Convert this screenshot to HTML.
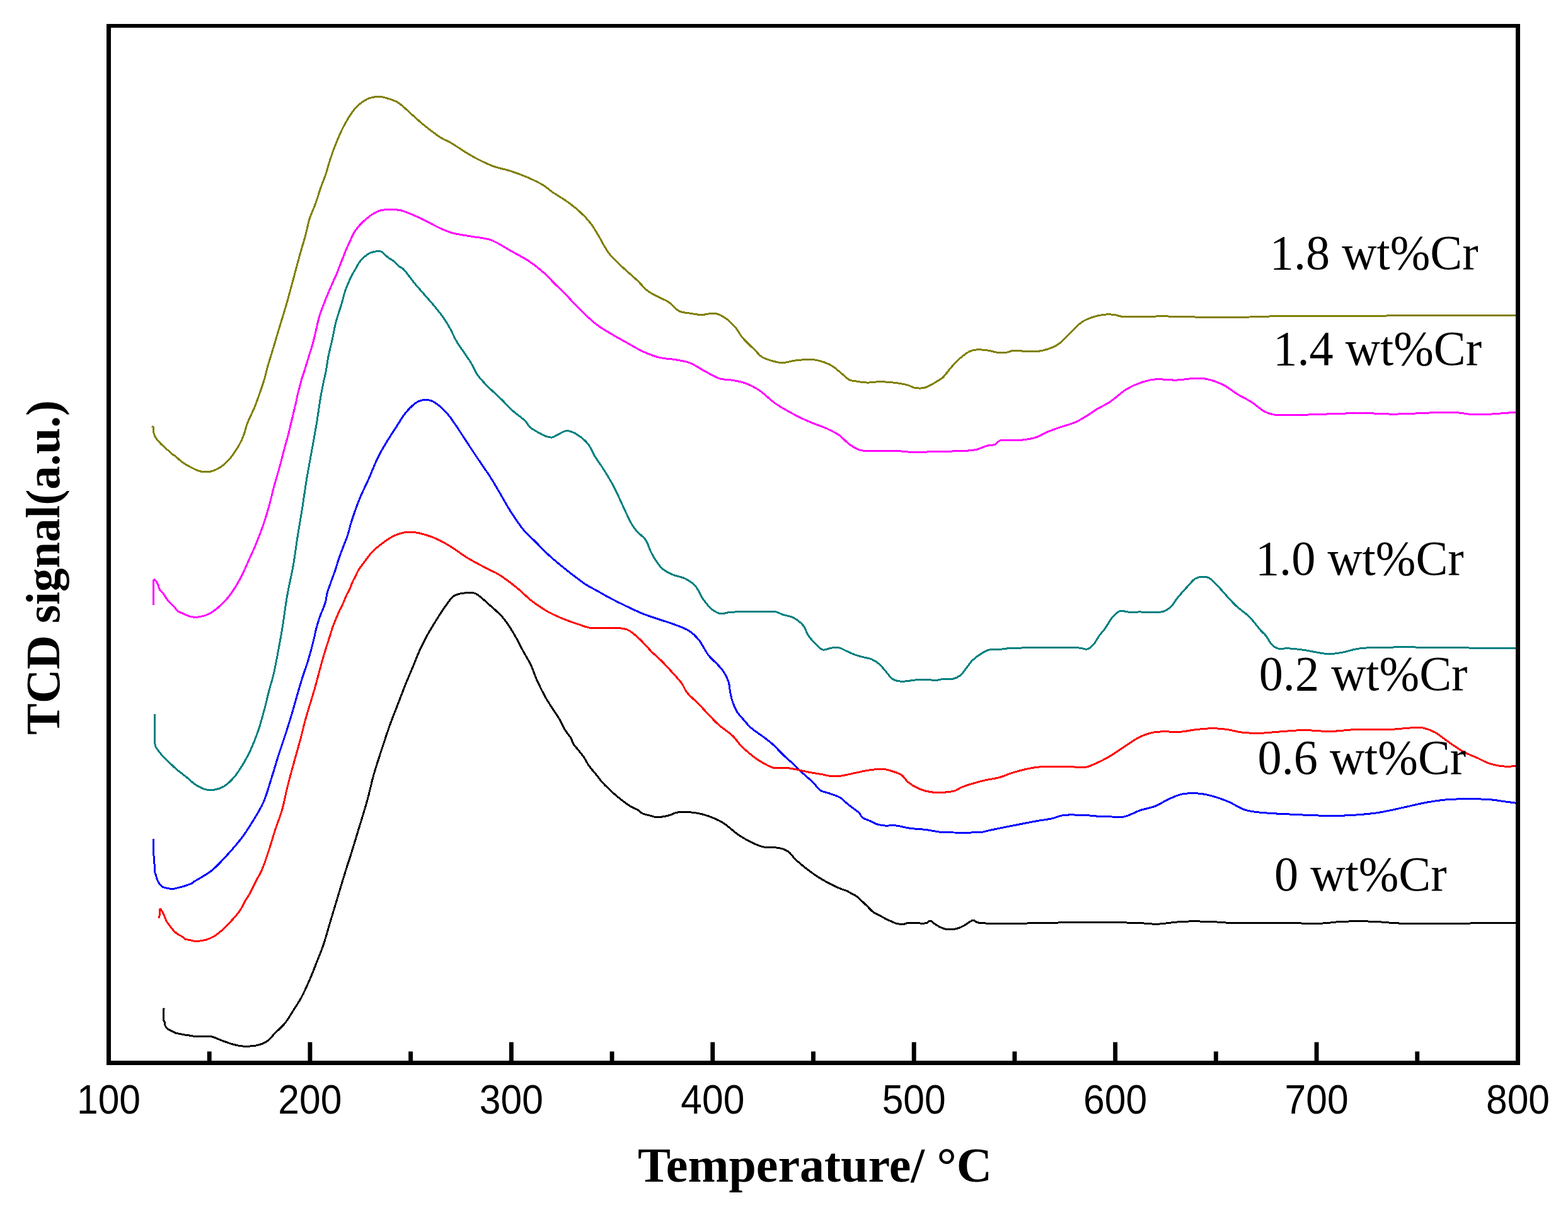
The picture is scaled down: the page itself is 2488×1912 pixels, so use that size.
<!DOCTYPE html>
<html><head><meta charset="utf-8"><title>TCD signal vs Temperature</title>
<style>html,body{margin:0;padding:0;background:#fff;}svg{display:block;}</style>
</head><body>
<svg width="2488" height="1912" viewBox="0 0 2488 1912"><rect x="0" y="0" width="2488" height="1912" fill="#fff"/>
<path d="M241.1,676.1 L243.1,677.9 C243.2,680.3 243.0,683.1 243.4,685.0 C243.6,686.3 244.1,687.1 244.5,688.2 C244.9,689.4 245.0,690.8 245.6,692.1 C246.3,693.5 247.3,695.0 248.4,696.4 C249.5,697.8 250.8,699.0 252.0,700.4 C253.4,702.0 254.9,704.0 256.3,705.4 C257.5,706.5 258.7,707.1 259.9,708.2 C261.3,709.5 262.7,711.7 264.1,712.9 C265.3,713.9 266.4,714.0 267.7,715.0 C269.4,716.3 271.2,718.9 273.1,720.4 C274.8,721.8 276.4,722.4 278.4,723.9 C281.4,726.2 285.0,730.4 289.0,733.3 C293.3,736.4 298.3,739.2 303.3,741.7 C308.3,744.2 313.5,747.1 318.8,748.1 C323.9,749.1 329.2,749.2 334.3,748.1 C339.9,746.9 346.1,743.7 351.0,740.5 C355.6,737.5 358.9,734.4 362.9,729.8 C368.3,723.7 375.3,713.3 379.5,706.0 C382.7,700.4 384.6,696.0 386.7,690.5 C389.0,684.5 390.1,678.0 392.6,671.4 C395.5,663.8 400.2,655.1 403.3,647.6 C406.1,641.0 408.0,635.6 410.5,628.6 C413.5,620.1 417.7,607.9 420.0,600.0 C421.6,594.5 422.0,591.5 423.6,585.7 C426.1,576.5 430.7,561.9 434.3,550.0 C437.9,538.1 441.4,526.2 445.0,514.3 C448.6,502.4 452.2,490.8 455.7,478.6 C459.3,465.8 462.8,452.4 466.4,439.3 C469.9,426.2 473.7,411.6 477.0,400.0 C479.6,390.7 482.0,383.6 484.3,375.0 C486.8,365.8 488.6,355.2 491.4,346.4 C493.9,338.6 497.2,332.5 500.0,324.8 C503.2,316.0 506.5,304.7 509.5,296.2 C512.0,289.2 514.4,283.9 516.7,277.1 C519.2,269.6 521.1,261.4 523.8,253.3 C526.6,244.7 529.6,236.1 533.3,227.1 C537.4,217.1 542.2,205.8 547.6,196.2 C552.6,187.2 557.9,178.0 564.3,171.2 C570.0,165.2 576.6,159.9 583.3,156.9 C589.4,154.2 597.1,153.3 602.4,153.3 C606.1,153.3 608.2,154.2 611.9,155.2 C617.2,156.7 624.8,158.7 631.0,162.4 C638.3,166.7 645.5,174.7 652.4,180.7 C658.9,186.4 664.3,191.6 671.4,197.4 C679.8,204.3 691.9,213.8 700.0,218.8 C705.4,222.2 708.9,222.9 714.3,226.0 C721.8,230.3 732.7,237.9 740.5,242.6 C746.6,246.3 750.9,248.9 757.1,252.1 C764.8,256.0 774.4,260.8 783.3,264.0 C791.9,267.1 800.6,268.3 809.5,271.2 C818.9,274.2 829.1,278.0 838.1,281.9 C846.5,285.6 855.1,289.6 861.9,293.8 C867.4,297.2 870.8,300.7 876.2,304.5 C883.1,309.3 892.5,314.6 900.0,320.0 C907.2,325.2 914.2,330.6 920.5,336.4 C926.6,342.0 932.0,347.7 937.1,354.3 C942.4,361.2 947.5,370.3 951.4,376.9 C954.3,381.8 955.9,385.6 958.6,390.0 C961.5,394.7 964.1,399.4 968.1,404.3 C973.1,410.4 980.3,416.9 987.1,423.3 C994.5,430.3 1003.8,438.0 1011.0,444.8 C1017.1,450.6 1021.7,456.9 1027.6,461.4 C1032.9,465.5 1038.7,468.0 1044.3,471.0 C1049.8,474.0 1055.7,475.8 1061.0,479.3 C1066.8,483.1 1071.7,490.7 1077.6,493.6 C1082.8,496.2 1088.5,496.1 1094.3,497.1 C1100.4,498.1 1107.0,499.5 1113.3,499.5 C1119.7,499.5 1127.2,496.8 1132.4,497.1 C1136.1,497.3 1138.7,498.1 1141.9,499.5 C1145.8,501.1 1149.8,503.6 1153.8,506.7 C1158.6,510.4 1164.0,516.0 1168.1,521.0 C1171.8,525.6 1173.5,530.2 1177.6,535.2 C1183.1,541.9 1193.3,551.0 1199.0,556.7 C1202.8,560.5 1204.5,563.6 1208.6,566.2 C1213.6,569.4 1221.6,571.7 1227.6,573.3 C1232.6,574.7 1236.8,575.8 1241.9,575.7 C1247.8,575.6 1254.7,572.9 1261.0,572.1 C1267.1,571.3 1273.1,570.8 1279.0,570.7 C1284.7,570.6 1289.7,570.2 1295.7,571.4 C1303.0,572.9 1312.5,576.3 1319.5,580.2 C1325.9,583.8 1331.1,589.3 1336.2,593.3 C1340.5,596.7 1343.9,600.9 1348.1,602.9 C1351.9,604.6 1355.7,604.5 1360.0,605.2 C1365.1,606.0 1370.9,607.0 1376.7,607.1 C1382.8,607.2 1388.9,605.7 1395.7,605.7 C1403.7,605.7 1413.9,606.6 1421.9,607.6 C1428.8,608.5 1435.8,609.6 1441.0,611.2 C1444.8,612.3 1446.8,614.5 1450.5,615.2 C1455.2,616.1 1461.4,616.6 1467.1,615.2 C1474.0,613.5 1483.4,607.0 1488.6,604.0 C1491.7,602.2 1493.2,601.5 1495.7,599.3 C1499.4,596.0 1503.6,589.6 1507.6,585.0 C1511.5,580.5 1514.8,576.1 1519.5,571.9 C1524.9,567.0 1532.7,560.3 1538.6,557.6 C1542.8,555.6 1546.0,555.1 1550.5,554.8 C1556.1,554.4 1563.6,555.5 1569.5,556.4 C1574.6,557.2 1579.2,559.0 1583.8,559.5 C1587.9,559.9 1591.8,560.0 1595.7,559.5 C1599.7,559.0 1603.0,556.9 1607.6,556.4 C1613.7,555.8 1622.6,557.4 1629.0,557.6 C1634.2,557.7 1638.9,557.9 1643.3,557.6 C1647.2,557.4 1650.3,557.1 1654.3,556.2 C1659.3,555.1 1666.0,553.0 1671.0,550.7 C1675.4,548.7 1679.0,546.7 1682.9,543.6 C1687.7,539.9 1692.0,534.3 1697.1,529.3 C1702.9,523.6 1710.0,515.7 1716.2,511.4 C1721.1,508.0 1725.3,506.2 1730.5,504.3 C1736.3,502.2 1743.1,500.3 1749.5,499.5 C1755.8,498.7 1763.0,498.8 1768.6,499.5 C1773.1,500.0 1774.9,501.7 1780.5,502.4 C1793.3,503.9 1821.0,501.8 1844.8,501.9 C1874.5,502.1 1911.9,503.9 1944.8,503.8 C1976.9,503.7 2004.2,501.9 2040.0,501.4 C2086.4,500.8 2143.2,501.2 2200.0,501.0 C2264.8,500.8 2338.7,500.5 2408.0,500.3" fill="none" stroke="#808000" stroke-width="3" stroke-linejoin="round" stroke-linecap="butt" shape-rendering="crispEdges"/>
<path d="M243.5,960.2 L243.5,921.4 L245.0,919.3 C246.3,921.0 247.9,922.5 249.0,924.3 C250.0,926.0 250.7,927.7 251.4,929.5 C252.0,931.2 252.0,933.2 252.9,934.8 C253.8,936.4 255.3,937.4 256.7,939.0 C258.5,941.1 260.7,944.3 262.4,946.7 C263.8,948.7 264.5,950.2 266.2,952.4 C268.9,955.7 274.6,961.0 277.6,964.3 C279.6,966.5 280.5,968.6 282.4,970.0 C284.3,971.4 286.4,971.8 289.0,972.9 C292.8,974.5 298.4,977.7 303.3,978.6 C308.0,979.5 312.7,979.4 317.6,978.6 C323.0,977.7 328.6,975.9 334.3,972.6 C341.9,968.2 351.4,959.4 358.0,952.4 C363.8,946.3 368.0,940.0 372.4,933.3 C376.8,926.5 380.5,919.5 384.3,911.9 C388.4,903.7 392.5,894.0 396.2,885.7 C399.6,878.2 402.5,872.1 405.7,864.3 C409.6,855.0 414.0,843.7 417.6,833.3 C421.1,823.1 424.3,812.5 427.1,802.4 C429.8,792.7 431.6,783.7 434.3,773.8 C437.2,763.1 440.7,751.7 443.8,740.5 C446.9,729.1 450.6,713.9 452.8,706.1 C453.9,702.0 454.6,700.0 455.5,696.8 C456.4,693.5 457.3,690.2 458.2,686.7 C459.1,683.0 460.0,678.7 460.9,675.1 C461.7,671.9 462.4,669.0 463.2,665.9 C464.0,662.6 464.7,659.2 465.5,655.8 C466.3,652.4 467.1,649.0 467.9,645.7 C468.7,642.5 469.5,639.7 470.2,636.4 C471.0,632.8 471.6,628.7 472.5,624.8 C473.4,620.9 474.6,617.1 475.6,613.2 C476.6,609.3 477.6,605.3 478.7,601.6 C479.7,598.2 480.7,595.5 481.9,591.9 C483.4,587.3 485.1,581.6 486.7,576.4 C488.3,571.3 489.8,566.1 491.4,561.0 C493.0,555.8 494.8,550.6 496.2,545.5 C497.6,540.7 498.6,536.1 499.8,531.2 C501.0,526.1 502.1,520.8 503.3,515.7 C504.5,510.8 505.4,506.3 506.9,501.4 C508.5,496.0 510.8,490.4 512.9,484.8 C515.1,478.9 517.4,473.1 520.0,466.9 C522.8,460.2 526.4,452.0 529.0,446.0 C531.0,441.5 532.7,438.2 534.3,434.3 C535.9,430.5 537.0,426.9 538.6,422.9 C540.3,418.4 542.4,413.4 544.3,408.6 C546.2,403.8 548.1,398.7 550.0,394.3 C551.7,390.4 553.2,387.5 555.0,383.6 C557.1,379.1 558.5,373.9 561.9,368.8 C566.4,362.0 574.0,353.3 581.0,347.4 C587.6,341.9 595.2,336.7 602.4,334.3 C608.7,332.2 615.5,332.6 621.4,332.6 C626.5,332.6 630.3,332.6 635.7,333.8 C643.2,335.5 653.7,340.2 661.9,343.8 C669.5,347.1 676.4,351.0 683.3,354.5 C689.8,357.8 696.2,361.3 702.4,364.0 C708.1,366.4 712.5,368.3 719.0,370.0 C727.7,372.3 739.9,373.7 750.0,375.5 C759.7,377.2 769.1,377.4 778.6,380.7 C789.0,384.3 799.2,391.7 809.5,397.4 C819.9,403.2 831.3,409.0 840.5,415.2 C848.5,420.6 855.1,425.9 861.9,431.9 C868.6,437.9 874.9,445.0 881.0,451.0 C886.5,456.4 891.3,460.7 896.7,466.2 C902.8,472.4 908.5,479.2 915.7,486.4 C924.6,495.3 936.2,507.0 946.7,515.0 C956.1,522.2 966.6,527.8 975.2,532.9 C982.1,537.0 987.4,539.8 994.3,543.6 C1002.3,548.0 1011.6,553.9 1020.5,557.9 C1029.1,561.8 1038.1,565.3 1046.7,567.4 C1054.7,569.4 1062.6,569.1 1070.5,570.5 C1078.5,571.9 1086.6,572.8 1094.3,575.7 C1102.5,578.8 1110.1,584.6 1118.1,588.8 C1126.0,592.9 1134.2,598.4 1141.9,600.7 C1148.4,602.7 1154.5,602.0 1161.0,603.1 C1168.0,604.3 1175.4,605.4 1182.4,607.9 C1189.7,610.5 1196.6,613.9 1203.8,618.6 C1212.4,624.2 1220.7,633.5 1230.0,640.0 C1239.4,646.6 1250.5,652.5 1260.0,657.6 C1268.3,662.0 1275.4,665.4 1283.8,669.0 C1292.8,672.9 1303.9,676.3 1312.4,680.2 C1319.5,683.5 1325.5,686.4 1331.4,690.5 C1337.4,694.7 1342.3,701.1 1348.1,705.2 C1353.5,709.0 1358.9,712.6 1364.8,714.3 C1370.8,716.0 1376.4,715.3 1383.8,715.5 C1394.3,715.8 1410.1,715.1 1421.9,715.5 C1432.1,715.9 1441.0,717.4 1450.5,717.6 C1460.0,717.8 1468.0,717.0 1479.0,716.7 C1494.3,716.2 1521.5,716.1 1533.8,715.2 C1540.1,714.8 1543.1,714.7 1548.1,713.6 C1554.1,712.3 1561.5,708.5 1567.1,707.1 C1571.5,706.0 1575.7,706.7 1579.0,705.2 C1581.9,703.9 1582.6,700.7 1586.2,699.3 C1593.3,696.6 1611.2,699.3 1621.9,698.1 C1630.7,697.1 1638.9,695.6 1645.7,693.3 C1651.2,691.4 1654.9,688.4 1660.0,686.2 C1665.6,683.7 1671.4,681.7 1678.1,679.3 C1686.5,676.3 1698.3,673.5 1706.7,669.8 C1713.9,666.6 1719.9,662.6 1725.7,659.0 C1730.9,655.8 1734.7,652.7 1740.0,649.5 C1746.3,645.6 1754.1,642.4 1761.4,637.6 C1769.9,632.0 1778.8,622.7 1787.6,617.4 C1795.5,612.7 1803.5,609.3 1811.4,606.7 C1818.6,604.3 1824.9,602.6 1832.9,601.9 C1842.7,601.0 1855.3,603.4 1866.2,603.1 C1876.7,602.8 1888.4,600.3 1897.1,600.2 C1903.5,600.1 1907.6,599.9 1913.8,601.2 C1922.2,602.9 1933.8,607.1 1942.4,611.4 C1950.3,615.4 1956.6,621.3 1963.8,625.7 C1970.8,630.0 1978.2,633.1 1985.2,637.6 C1992.5,642.2 2000.0,649.7 2006.7,653.1 C2011.7,655.7 2015.3,656.9 2021.0,657.9 C2029.1,659.3 2037.8,658.6 2051.0,658.6 C2076.4,658.5 2133.5,655.4 2162.9,655.5 C2182.1,655.6 2191.9,657.1 2210.5,657.1 C2236.8,657.2 2281.6,653.4 2305.7,654.3 C2320.5,654.8 2327.6,657.6 2341.4,657.9 C2360.2,658.3 2385.8,655.3 2408.0,654.0" fill="none" stroke="#FF00FF" stroke-width="3" stroke-linejoin="round" stroke-linecap="butt" shape-rendering="crispEdges"/>
<path d="M245.0,1132.5 L245.0,1172.6 C245.2,1174.4 245.5,1176.2 245.7,1178.0 C246.0,1179.9 245.9,1182.3 246.5,1184.0 C247.1,1185.5 247.9,1186.4 249.0,1188.0 C250.8,1190.6 254.2,1195.1 256.7,1197.9 C258.7,1200.1 260.0,1201.2 262.4,1203.6 C266.6,1207.7 273.7,1215.1 279.5,1220.2 C285.0,1225.0 290.9,1229.0 296.2,1233.3 C301.2,1237.3 305.3,1241.9 310.5,1245.2 C315.6,1248.4 321.6,1251.7 327.1,1252.9 C331.9,1254.0 336.7,1253.7 341.4,1252.9 C346.2,1252.0 351.0,1250.5 355.7,1247.6 C361.4,1244.1 367.4,1238.0 372.4,1232.1 C377.8,1225.8 382.4,1217.8 386.7,1210.7 C390.7,1204.0 393.9,1198.2 397.4,1190.5 C401.8,1180.9 406.7,1168.3 410.5,1157.1 C414.2,1146.1 417.1,1134.5 420.0,1123.8 C422.6,1113.9 424.7,1104.5 427.1,1095.2 C429.4,1086.3 432.1,1078.5 434.3,1069.0 C436.9,1058.1 439.2,1045.0 441.4,1033.3 C443.5,1022.0 445.3,1012.5 447.4,1000.0 C450.1,984.0 452.6,962.8 455.7,945.2 C458.6,928.7 462.4,913.5 465.2,897.6 C468.0,881.8 470.0,865.4 472.4,850.0 C474.7,835.3 477.2,821.8 479.5,807.1 C481.9,791.7 484.2,774.8 486.7,759.5 C489.1,745.1 492.2,729.0 494.2,717.7 C495.6,710.0 496.6,704.5 497.7,698.4 C498.7,693.0 499.5,688.1 500.4,682.9 C501.3,677.7 502.3,672.6 503.1,667.4 C503.9,662.2 504.6,657.1 505.4,651.9 C506.2,646.7 506.9,641.6 507.7,636.4 C508.5,631.3 509.4,626.1 510.4,621.0 C511.4,615.8 512.4,610.7 513.5,605.5 C514.6,600.3 515.9,595.8 517.0,590.0 C518.4,582.6 519.7,571.9 521.2,564.5 C522.4,558.7 523.6,554.2 524.8,549.0 C526.0,543.9 527.2,538.9 528.3,533.6 C529.5,527.9 530.5,521.3 531.9,515.7 C533.1,510.5 534.5,505.8 536.0,501.0 C537.4,496.3 539.2,491.4 540.5,487.1 C541.7,483.3 542.6,480.0 543.6,476.4 C544.6,472.8 545.4,469.1 546.4,465.7 C547.3,462.7 548.2,459.9 549.3,457.1 C550.4,454.2 551.6,451.5 552.9,448.6 C554.2,445.6 555.6,442.2 557.1,439.3 C558.5,436.5 559.9,433.9 561.4,431.4 C562.8,429.0 564.3,426.7 565.7,424.3 C567.2,421.8 568.3,418.8 570.0,416.4 C571.7,414.1 573.7,411.9 575.7,410.0 C577.5,408.2 579.4,406.5 581.4,405.0 C583.2,403.6 585.0,402.3 587.1,401.4 C589.3,400.4 592.0,399.8 594.3,399.3 C596.3,398.9 598.1,398.6 600.0,398.6 C601.9,398.6 604.0,398.8 605.7,399.6 C607.4,400.4 608.3,402.1 610.0,403.6 C612.2,405.5 615.4,408.2 617.9,410.0 C619.9,411.4 621.5,412.0 623.6,413.6 C626.6,415.9 630.6,420.6 633.6,422.9 C635.7,424.5 637.6,424.9 639.3,426.4 C641.2,428.0 642.6,430.1 644.3,432.1 C646.2,434.3 648.0,436.7 650.0,439.3 C652.2,442.2 654.3,445.1 657.1,448.6 C661.0,453.4 666.4,459.5 671.4,465.2 C676.7,471.4 682.8,478.0 688.1,484.3 C693.1,490.4 698.0,496.2 702.4,502.4 C706.7,508.5 710.7,515.0 714.3,521.4 C717.8,527.7 720.1,534.1 723.8,540.5 C727.9,547.6 733.8,555.5 738.1,561.9 C741.6,567.1 744.6,571.1 747.6,576.2 C750.9,581.7 753.2,588.4 757.1,594.0 C761.1,599.9 765.9,604.9 771.4,610.7 C778.2,617.8 787.7,626.0 795.2,633.3 C802.0,639.9 807.8,646.5 814.3,652.4 C820.5,658.0 828.7,663.1 833.3,667.9 C836.5,671.2 837.5,674.6 840.5,677.4 C843.8,680.4 848.2,682.8 852.4,685.2 C856.9,687.8 862.3,691.0 866.7,692.4 C870.1,693.5 873.1,694.5 876.2,694.0 C879.4,693.5 882.3,690.9 885.7,689.3 C889.4,687.5 893.8,684.4 897.6,683.8 C900.9,683.3 903.9,684.1 907.1,685.2 C911.0,686.5 915.0,688.9 919.0,691.7 C923.8,695.1 929.2,699.6 933.3,704.8 C937.6,710.3 939.9,717.4 943.8,723.8 C948.1,730.8 953.3,737.5 958.1,745.2 C963.6,754.0 969.5,763.6 974.8,773.8 C980.6,784.9 986.3,798.8 991.4,809.5 C995.6,818.3 999.6,827.3 1003.3,833.3 C1005.8,837.4 1007.5,839.5 1010.5,842.9 C1014.3,847.3 1021.2,851.8 1024.8,857.1 C1028.2,862.1 1029.2,868.3 1031.9,873.8 C1034.7,879.4 1038.0,885.5 1041.4,890.5 C1044.4,894.9 1047.0,899.0 1051.0,902.4 C1055.5,906.2 1061.7,909.3 1067.6,911.9 C1073.6,914.5 1080.8,914.9 1086.7,917.9 C1092.7,920.9 1098.7,924.7 1103.3,929.8 C1108.3,935.2 1110.7,943.8 1115.2,950.0 C1119.5,956.0 1124.3,962.6 1129.5,966.7 C1133.9,970.2 1138.9,973.1 1143.8,973.8 C1148.5,974.5 1151.6,972.0 1158.1,971.4 C1172.1,970.2 1213.9,971.0 1224.8,971.0 C1228.4,971.0 1229.4,970.5 1231.9,971.0 C1234.9,971.6 1237.7,973.7 1241.4,975.0 C1246.1,976.7 1252.8,977.1 1258.1,979.8 C1264.0,982.8 1270.8,987.9 1274.8,992.9 C1278.3,997.2 1278.9,1002.5 1281.9,1007.1 C1285.1,1012.1 1289.6,1017.3 1293.8,1021.4 C1297.6,1025.1 1301.4,1030.0 1305.7,1031.0 C1309.8,1032.0 1314.7,1028.7 1319.0,1028.1 C1323.1,1027.6 1327.1,1026.9 1331.0,1027.6 C1335.1,1028.4 1338.8,1031.1 1342.9,1032.9 C1347.4,1034.9 1352.3,1037.3 1357.1,1039.0 C1361.8,1040.7 1366.8,1041.9 1371.4,1043.1 C1375.5,1044.2 1379.5,1044.5 1383.3,1046.2 C1387.4,1048.0 1391.6,1050.8 1395.2,1053.8 C1398.8,1056.9 1401.4,1060.8 1404.8,1064.5 C1408.5,1068.7 1412.2,1074.8 1416.7,1077.6 C1420.7,1080.0 1424.7,1080.8 1429.8,1081.2 C1436.8,1081.8 1446.8,1079.2 1454.8,1078.8 C1462.2,1078.4 1471.0,1078.4 1476.2,1078.8 C1479.2,1079.1 1480.6,1080.0 1483.3,1080.0 C1486.8,1079.9 1490.9,1078.0 1495.2,1077.6 C1500.0,1077.1 1505.9,1078.6 1510.7,1077.6 C1515.4,1076.6 1520.3,1074.3 1523.8,1071.7 C1526.9,1069.4 1528.3,1066.6 1531.0,1063.3 C1534.5,1059.0 1538.4,1052.3 1542.9,1047.9 C1547.2,1043.7 1552.4,1040.0 1557.1,1037.1 C1561.1,1034.6 1564.6,1032.3 1569.0,1031.2 C1574.0,1029.9 1580.4,1030.9 1585.7,1030.5 C1590.7,1030.1 1592.9,1029.2 1600.0,1028.8 C1619.8,1027.6 1694.8,1026.7 1713.3,1028.1 C1719.3,1028.6 1721.6,1030.9 1725.2,1030.0 C1728.8,1029.1 1731.9,1026.0 1734.8,1022.9 C1738.3,1019.2 1741.0,1013.1 1744.3,1008.6 C1747.4,1004.4 1750.6,1001.1 1753.8,996.7 C1757.7,991.4 1761.3,983.6 1765.7,978.8 C1769.4,974.8 1773.4,970.5 1777.6,969.3 C1781.4,968.3 1784.9,970.7 1789.5,971.0 C1795.6,971.4 1803.8,970.9 1811.0,971.0 C1818.1,971.1 1826.0,972.0 1832.4,971.7 C1837.7,971.5 1842.3,971.6 1846.7,970.0 C1851.1,968.4 1855.1,965.4 1858.6,962.1 C1862.3,958.5 1864.4,953.7 1868.1,949.0 C1872.8,943.2 1879.6,935.5 1884.8,930.0 C1889.0,925.5 1892.4,920.5 1896.7,918.1 C1900.4,916.0 1904.8,915.3 1908.6,915.2 C1911.9,915.1 1914.9,915.3 1918.1,916.9 C1922.7,919.2 1927.9,925.5 1932.4,930.0 C1936.7,934.3 1940.0,938.4 1944.3,943.1 C1949.4,948.6 1954.9,955.2 1961.0,961.0 C1967.5,967.2 1975.8,972.2 1982.4,978.8 C1989.2,985.6 1996.5,996.0 2001.4,1001.4 C2004.3,1004.5 2006.2,1005.6 2008.6,1008.6 C2011.7,1012.4 2014.5,1019.4 2018.1,1022.9 C2021.0,1025.8 2023.8,1027.9 2027.6,1029.0 C2032.1,1030.3 2037.9,1028.5 2043.8,1028.8 C2051.0,1029.1 2058.6,1030.0 2067.6,1031.2 C2079.3,1032.7 2096.4,1037.4 2108.1,1037.6 C2117.1,1037.8 2123.8,1036.2 2131.9,1034.8 C2140.5,1033.3 2144.8,1030.3 2158.1,1028.8 C2198.7,1024.2 2324.7,1028.8 2408.0,1028.8" fill="none" stroke="#008080" stroke-width="3" stroke-linejoin="round" stroke-linecap="butt" shape-rendering="crispEdges"/>
<path d="M244.0,1331.0 C244.0,1340.0 243.7,1350.6 244.0,1358.0 C244.2,1363.1 244.7,1366.8 245.0,1371.0 C245.2,1375.1 244.9,1379.8 245.5,1383.0 C245.9,1385.2 246.7,1386.5 247.3,1388.5 C248.0,1390.8 248.5,1393.7 249.6,1396.2 C250.7,1398.7 252.2,1401.3 253.8,1403.3 C255.2,1405.0 256.7,1406.5 258.6,1407.5 C260.6,1408.6 263.3,1408.8 265.7,1409.3 C268.2,1409.8 270.8,1410.6 273.5,1410.5 C276.4,1410.4 279.6,1409.3 282.4,1408.7 C284.9,1408.1 287.0,1407.6 289.5,1406.9 C292.3,1406.1 295.8,1404.9 298.5,1403.9 C300.7,1403.1 302.6,1402.5 304.4,1401.5 C306.1,1400.5 307.5,1399.1 309.2,1398.0 C311.0,1396.9 312.6,1396.2 314.8,1394.9 C318.3,1392.8 324.1,1389.4 328.1,1386.7 C331.6,1384.4 334.1,1383.0 337.6,1380.0 C342.8,1375.6 349.1,1369.0 355.7,1361.9 C364.3,1352.6 376.6,1338.7 384.3,1328.6 C390.2,1320.8 393.6,1315.1 398.6,1307.1 C404.6,1297.3 412.2,1285.9 417.6,1273.8 C423.5,1260.7 427.7,1244.1 431.9,1231.0 C435.5,1219.9 438.0,1210.7 441.4,1200.0 C445.1,1188.5 449.6,1175.8 453.3,1164.3 C456.7,1153.6 459.8,1143.8 462.9,1133.3 C466.1,1122.4 469.4,1110.2 472.4,1100.0 C474.9,1091.4 476.9,1084.5 479.5,1076.2 C482.4,1067.1 485.9,1057.8 489.0,1047.6 C492.5,1036.0 497.0,1018.4 499.0,1010.0 C500.0,1005.8 500.2,1003.9 501.0,1000.5 C502.0,996.4 503.5,991.4 504.8,987.1 C506.0,983.1 507.2,979.5 508.6,975.7 C510.0,971.9 511.9,968.1 513.3,964.3 C514.7,960.5 516.1,956.7 517.1,952.9 C518.0,949.1 518.0,945.2 519.0,941.4 C520.0,937.6 521.5,933.9 522.9,930.0 C524.4,925.7 526.0,921.1 527.6,916.7 C529.2,912.2 530.9,907.9 532.4,903.3 C534.0,898.4 535.5,893.0 537.1,888.1 C538.6,883.5 540.3,879.1 541.9,874.8 C543.5,870.6 545.1,866.5 546.7,862.4 C548.3,858.3 549.8,854.8 551.4,850.0 C553.6,843.4 555.3,834.9 558.1,826.2 C561.6,815.4 566.3,801.9 571.0,790.5 C575.4,779.7 580.5,770.0 585.2,759.5 C590.0,748.6 594.7,736.0 599.5,726.2 C603.4,718.2 607.0,712.2 611.4,704.8 C616.4,696.4 622.5,687.2 628.1,678.6 C633.6,670.1 638.5,660.8 644.8,653.6 C650.5,647.0 657.8,639.9 663.8,636.9 C667.9,634.8 672.0,634.5 675.7,634.5 C679.0,634.5 682.0,634.9 685.2,636.2 C689.1,637.8 693.1,640.8 697.1,644.0 C701.8,647.9 706.6,652.5 711.4,658.3 C717.6,665.7 724.4,676.6 730.5,685.7 C736.4,694.5 742.1,703.6 747.6,711.9 C752.6,719.4 757.0,726.0 761.9,733.3 C767.1,741.0 773.0,749.1 778.1,757.1 C783.1,765.0 787.5,772.7 792.4,781.0 C797.8,790.1 802.9,799.9 809.0,809.5 C815.5,819.7 823.2,831.7 830.5,840.5 C836.7,847.9 843.0,853.0 849.5,859.5 C856.4,866.4 863.5,874.1 871.0,881.0 C878.6,888.0 886.6,894.6 894.8,901.2 C903.2,908.0 914.6,916.7 921.0,921.4 C924.6,924.0 926.0,925.2 929.5,927.4 C934.5,930.6 942.0,934.4 948.6,938.1 C955.5,942.0 962.8,946.2 970.0,950.0 C977.1,953.7 983.7,957.0 991.4,960.7 C1000.2,964.9 1010.8,970.1 1020.0,973.8 C1028.2,977.1 1035.5,979.3 1043.8,982.1 C1052.9,985.2 1063.6,988.3 1072.4,991.7 C1080.1,994.7 1087.7,997.2 1093.8,1001.2 C1099.4,1004.9 1103.5,1008.8 1108.1,1014.3 C1113.9,1021.2 1119.1,1033.3 1124.8,1040.5 C1129.4,1046.3 1134.8,1050.1 1139.0,1054.8 C1142.7,1059.0 1146.2,1062.6 1149.0,1067.1 C1151.9,1071.8 1154.6,1077.3 1156.2,1082.6 C1157.7,1087.7 1157.6,1093.1 1158.6,1098.1 C1159.6,1103.0 1160.5,1107.5 1162.1,1112.4 C1163.9,1117.8 1166.2,1124.0 1169.3,1129.0 C1172.3,1133.9 1176.4,1137.9 1180.0,1142.1 C1183.5,1146.2 1186.2,1149.9 1190.7,1154.0 C1196.6,1159.4 1207.0,1165.9 1213.3,1170.7 C1217.9,1174.3 1220.9,1176.3 1225.2,1180.2 C1230.9,1185.3 1238.6,1193.9 1244.3,1199.3 C1248.7,1203.4 1252.3,1206.3 1256.2,1210.0 C1260.2,1213.8 1264.3,1218.3 1268.1,1221.9 C1271.4,1225.0 1274.1,1227.1 1277.6,1230.2 C1281.9,1234.0 1287.7,1239.0 1291.9,1243.3 C1295.5,1247.0 1297.5,1251.4 1301.4,1254.0 C1305.4,1256.6 1310.7,1257.0 1315.7,1258.8 C1321.3,1260.8 1328.7,1262.9 1333.3,1265.7 C1336.9,1267.9 1338.8,1270.5 1341.9,1273.1 C1345.5,1276.1 1350.0,1279.7 1353.8,1282.6 C1357.1,1285.2 1360.8,1287.2 1363.3,1289.8 C1365.4,1292.0 1365.8,1294.9 1368.1,1296.9 C1371.0,1299.3 1376.0,1300.6 1380.0,1302.4 C1384.0,1304.2 1387.7,1306.6 1391.9,1307.9 C1396.4,1309.3 1401.6,1310.0 1406.2,1310.2 C1410.3,1310.4 1413.4,1309.2 1418.1,1309.5 C1425.2,1309.9 1435.5,1313.1 1444.3,1314.3 C1453.0,1315.5 1462.2,1315.6 1470.5,1316.7 C1478.0,1317.7 1484.7,1319.5 1491.9,1320.2 C1499.0,1320.9 1504.8,1320.9 1513.3,1321.0 C1525.6,1321.1 1548.4,1321.5 1558.6,1320.2 C1563.9,1319.5 1565.8,1318.4 1570.5,1317.4 C1577.1,1316.0 1586.4,1314.2 1594.3,1312.6 C1602.2,1311.0 1609.8,1309.5 1618.1,1307.9 C1627.2,1306.1 1637.8,1304.0 1646.7,1302.4 C1654.3,1301.1 1661.2,1300.5 1668.1,1299.0 C1674.7,1297.6 1679.7,1294.6 1687.1,1293.6 C1697.1,1292.2 1712.8,1293.2 1722.9,1293.6 C1730.2,1293.9 1735.3,1294.8 1741.9,1295.2 C1749.1,1295.6 1757.1,1295.9 1764.3,1296.0 C1770.9,1296.1 1776.6,1297.3 1783.3,1296.0 C1791.5,1294.5 1800.9,1288.6 1809.5,1285.7 C1817.6,1283.0 1825.7,1282.0 1833.3,1279.0 C1840.8,1276.0 1847.5,1271.1 1854.8,1267.9 C1861.8,1264.8 1868.1,1261.4 1876.2,1260.0 C1885.9,1258.3 1898.2,1258.3 1909.5,1260.0 C1921.9,1261.8 1936.3,1266.9 1947.6,1271.4 C1957.3,1275.3 1965.9,1281.7 1973.8,1284.5 C1979.8,1286.6 1984.7,1287.2 1990.5,1288.1 C1996.6,1289.1 2002.2,1289.4 2009.5,1290.0 C2019.2,1290.8 2030.8,1291.3 2043.8,1291.9 C2060.9,1292.7 2086.0,1294.1 2103.3,1294.3 C2116.7,1294.5 2126.3,1294.5 2139.0,1293.8 C2153.8,1293.0 2171.5,1291.7 2186.7,1289.5 C2200.8,1287.4 2213.8,1284.0 2227.1,1281.2 C2240.0,1278.5 2252.9,1275.0 2265.2,1272.9 C2276.7,1270.9 2285.6,1269.4 2298.6,1268.6 C2316.5,1267.5 2346.7,1267.6 2362.9,1268.6 C2372.8,1269.2 2379.0,1270.7 2386.7,1271.7 C2394.0,1272.7 2400.9,1273.6 2408.0,1274.5" fill="none" stroke="#0000FF" stroke-width="3" stroke-linejoin="round" stroke-linecap="butt" shape-rendering="crispEdges"/>
<path d="M252.9,1456.7 L253.3,1443.8 L254.6,1442.1 C255.6,1443.6 256.6,1445.2 257.5,1446.7 C258.3,1448.1 258.9,1449.4 259.6,1450.8 C260.3,1452.4 261.0,1454.1 261.7,1455.8 C262.5,1457.7 263.1,1459.8 264.2,1461.7 C265.3,1463.7 267.0,1465.7 268.3,1467.5 C269.5,1469.1 270.4,1470.5 271.7,1472.1 C273.3,1474.2 275.4,1476.9 277.5,1478.8 C279.5,1480.6 281.7,1482.0 283.8,1483.3 C285.8,1484.6 288.2,1485.4 290.0,1486.7 C291.6,1487.8 292.6,1489.6 294.2,1490.4 C295.9,1491.2 297.9,1490.8 300.0,1491.2 C302.7,1491.7 305.5,1493.1 309.0,1493.3 C313.8,1493.6 320.9,1492.8 326.2,1491.4 C331.0,1490.1 335.4,1488.1 339.5,1485.7 C343.6,1483.3 346.9,1480.6 351.0,1477.1 C356.3,1472.5 362.9,1465.8 368.1,1460.0 C373.0,1454.6 377.8,1449.2 381.4,1443.8 C384.6,1439.0 386.4,1434.1 389.0,1429.5 C391.5,1425.2 394.1,1421.7 396.7,1417.1 C399.8,1411.5 403.0,1404.3 406.2,1398.1 C409.3,1392.0 412.6,1387.0 415.7,1380.0 C419.7,1370.9 423.6,1358.3 427.1,1347.6 C430.5,1337.2 433.3,1327.0 436.7,1316.7 C440.1,1306.3 444.3,1296.5 447.4,1285.7 C450.7,1274.3 452.7,1261.9 455.7,1250.0 C458.7,1238.1 461.8,1226.7 465.2,1214.3 C468.9,1200.6 473.7,1184.3 477.1,1171.4 C479.9,1160.9 481.4,1153.6 484.3,1142.9 C488.1,1129.0 493.9,1111.5 498.6,1095.2 C503.5,1078.2 508.3,1058.5 512.9,1042.9 C516.7,1030.1 520.9,1017.3 523.8,1008.1 C525.7,1002.0 526.9,997.6 528.6,992.9 C530.1,988.8 531.7,985.2 533.3,981.4 C534.9,977.6 536.4,973.8 538.1,970.0 C539.9,966.2 542.0,962.6 543.8,958.6 C545.8,954.3 547.5,949.5 549.5,945.2 C551.3,941.2 553.6,937.5 555.2,933.8 C556.7,930.5 557.6,927.4 559.0,924.3 C560.4,921.1 562.1,918.1 563.8,914.8 C565.6,911.2 567.4,906.7 569.5,903.3 C571.3,900.4 573.2,898.4 575.2,895.7 C577.6,892.5 580.3,888.6 582.9,885.2 C585.4,881.9 587.8,878.6 590.5,875.7 C593.1,872.9 595.4,871.0 599.0,868.1 C604.5,863.7 613.7,856.3 621.0,852.4 C627.3,849.0 633.6,846.5 640.0,845.2 C646.2,844.0 652.7,844.1 659.0,844.8 C665.4,845.5 672.0,847.6 678.1,849.5 C683.9,851.3 689.0,853.3 694.8,856.0 C701.6,859.2 708.8,863.3 716.2,867.9 C724.6,873.1 732.8,879.9 742.4,885.7 C753.2,892.2 769.4,900.3 778.1,904.8 C783.1,907.4 785.3,907.8 790.0,910.7 C798.1,915.6 811.8,925.9 821.0,933.3 C829.0,939.7 834.7,946.4 842.4,952.4 C850.5,958.7 859.5,965.0 868.6,970.2 C877.7,975.3 887.9,979.6 897.1,983.3 C905.3,986.6 913.8,989.4 921.0,991.7 C926.8,993.6 930.1,995.4 936.7,996.4 C947.4,998.0 968.6,995.4 979.5,996.4 C986.4,997.0 990.7,997.0 996.2,999.5 C1002.7,1002.4 1009.1,1008.7 1015.2,1014.3 C1021.8,1020.3 1028.0,1028.3 1034.3,1034.5 C1040.0,1040.1 1045.5,1044.5 1051.0,1050.0 C1056.6,1055.7 1062.3,1062.0 1067.6,1067.9 C1072.6,1073.5 1078.1,1079.1 1081.9,1084.5 C1085.1,1089.1 1086.0,1093.4 1089.5,1098.1 C1094.1,1104.2 1101.5,1109.9 1108.6,1117.1 C1117.7,1126.4 1129.6,1140.2 1139.5,1149.3 C1147.7,1156.8 1157.0,1162.1 1163.3,1168.3 C1168.2,1173.1 1170.9,1178.1 1175.2,1182.6 C1179.6,1187.2 1184.6,1191.7 1189.5,1195.7 C1194.2,1199.6 1198.3,1203.0 1203.8,1206.4 C1210.6,1210.6 1219.9,1216.5 1227.6,1218.3 C1234.1,1219.8 1240.4,1217.8 1246.7,1218.3 C1253.1,1218.8 1259.4,1220.2 1265.7,1221.4 C1272.1,1222.6 1278.4,1224.3 1284.8,1225.5 C1291.1,1226.7 1297.9,1227.5 1303.8,1228.6 C1308.9,1229.5 1313.2,1231.0 1318.1,1231.4 C1323.1,1231.8 1327.7,1231.8 1333.3,1231.2 C1340.4,1230.4 1349.2,1228.0 1357.1,1226.4 C1365.1,1224.8 1373.2,1222.7 1381.0,1221.7 C1388.3,1220.8 1396.0,1219.9 1402.4,1220.5 C1407.7,1221.0 1412.0,1222.4 1416.7,1224.0 C1421.5,1225.6 1427.0,1227.1 1431.0,1230.0 C1434.9,1232.8 1436.5,1237.4 1440.5,1240.7 C1445.3,1244.7 1452.1,1249.0 1458.6,1251.7 C1465.2,1254.5 1472.0,1256.4 1480.0,1257.1 C1490.0,1258.0 1506.0,1257.2 1514.3,1255.0 C1519.5,1253.6 1521.1,1251.0 1526.2,1249.0 C1534.8,1245.6 1551.1,1241.0 1561.9,1238.3 C1570.6,1236.1 1577.8,1235.8 1585.7,1233.6 C1593.7,1231.4 1600.8,1227.7 1609.5,1225.2 C1619.6,1222.3 1633.3,1219.0 1642.9,1217.6 C1650.1,1216.6 1654.5,1216.6 1661.9,1216.4 C1672.4,1216.1 1688.8,1216.7 1700.0,1216.8 C1708.9,1216.9 1716.8,1218.3 1723.8,1217.0 C1729.7,1215.9 1734.1,1213.4 1739.5,1211.0 C1745.6,1208.3 1751.6,1205.4 1758.6,1201.4 C1767.8,1196.1 1780.4,1187.0 1789.5,1181.2 C1796.6,1176.7 1801.7,1172.5 1808.6,1169.3 C1815.9,1165.9 1823.2,1163.2 1832.4,1161.7 C1844.5,1159.7 1863.8,1162.0 1875.2,1161.0 C1882.9,1160.4 1887.3,1158.9 1894.3,1158.1 C1902.9,1157.1 1913.8,1155.8 1922.9,1155.7 C1931.2,1155.6 1938.8,1156.3 1946.7,1157.4 C1954.7,1158.5 1962.2,1161.1 1970.5,1162.1 C1979.5,1163.2 1989.7,1163.4 1999.0,1163.3 C2007.9,1163.2 2015.4,1162.1 2025.2,1161.4 C2037.6,1160.5 2053.4,1158.8 2067.6,1158.6 C2081.9,1158.4 2096.2,1160.7 2110.5,1160.5 C2124.8,1160.3 2138.3,1157.9 2153.3,1157.4 C2169.9,1156.8 2189.1,1158.0 2205.7,1157.4 C2220.7,1156.9 2239.4,1154.3 2248.6,1154.3 C2252.9,1154.3 2254.5,1154.2 2258.1,1155.0 C2263.4,1156.2 2271.2,1158.9 2277.1,1162.1 C2283.1,1165.3 2287.5,1169.6 2293.8,1174.0 C2302.0,1179.7 2313.6,1188.3 2322.4,1193.1 C2329.2,1196.8 2334.7,1198.4 2341.4,1201.4 C2348.9,1204.7 2357.1,1209.6 2365.2,1212.1 C2373.0,1214.5 2381.5,1215.8 2389.0,1216.2 C2395.7,1216.6 2401.7,1215.5 2408.0,1215.2" fill="none" stroke="#FF0000" stroke-width="3" stroke-linejoin="round" stroke-linecap="butt" shape-rendering="crispEdges"/>
<path d="M261.2,1602.0 L259.5,1601.0 L259.5,1618.6 C260.1,1619.9 261.0,1621.1 261.4,1622.4 C261.7,1623.6 261.3,1624.9 261.7,1626.2 C262.1,1627.6 263.0,1629.2 264.0,1630.5 C265.0,1631.8 266.4,1632.9 267.9,1633.8 C269.6,1634.9 271.8,1635.5 273.6,1636.4 C275.3,1637.2 276.5,1638.3 278.3,1639.0 C280.4,1639.8 283.1,1640.0 285.5,1640.5 C287.9,1641.0 290.2,1641.5 292.6,1641.9 C295.0,1642.3 297.3,1642.5 299.8,1642.9 C302.5,1643.3 305.0,1644.0 308.3,1644.3 C312.9,1644.7 320.1,1644.5 325.0,1644.6 C329.0,1644.7 331.8,1644.0 335.7,1644.8 C340.8,1645.8 347.0,1649.3 352.9,1651.4 C359.1,1653.6 366.1,1656.2 371.9,1657.7 C376.7,1658.9 380.1,1659.7 385.2,1660.0 C391.8,1660.4 401.4,1660.2 408.1,1658.7 C413.8,1657.4 418.7,1655.5 423.3,1652.4 C428.3,1649.1 432.1,1643.6 436.7,1639.0 C441.6,1634.1 447.4,1629.3 451.9,1623.8 C456.3,1618.5 459.3,1613.0 463.3,1606.7 C468.1,1599.2 473.9,1590.6 478.6,1581.9 C483.5,1572.8 487.8,1562.9 491.9,1553.3 C496.0,1543.8 499.7,1534.0 503.3,1524.8 C506.7,1516.3 509.7,1509.2 512.9,1500.0 C516.8,1488.7 520.5,1474.6 524.3,1461.9 C528.1,1449.2 531.7,1436.9 535.7,1423.8 C539.9,1409.7 545.3,1391.8 549.0,1380.0 C551.5,1372.0 553.0,1367.9 555.5,1360.0 C559.2,1348.4 564.2,1331.8 568.6,1317.1 C573.3,1301.7 578.8,1284.5 582.9,1269.5 C586.6,1256.1 588.9,1244.0 592.4,1231.4 C596.0,1218.6 600.1,1206.3 604.3,1193.3 C608.8,1179.4 613.9,1163.6 618.6,1150.5 C622.6,1139.3 626.5,1129.8 630.5,1119.5 C634.5,1109.2 638.4,1098.7 642.4,1088.6 C646.3,1078.9 650.3,1069.5 654.3,1060.0 C658.3,1050.5 662.1,1040.4 666.2,1031.4 C670.0,1023.0 673.8,1015.5 678.1,1007.6 C682.5,999.6 687.6,991.5 692.4,983.8 C697.1,976.3 701.7,968.7 706.7,962.0 C711.3,955.9 715.0,948.8 721.0,945.2 C726.9,941.6 736.3,940.9 742.4,940.5 C746.9,940.2 750.0,939.9 754.3,941.7 C760.8,944.4 768.7,952.9 775.7,959.0 C782.9,965.3 790.7,971.7 797.1,979.0 C803.4,986.3 808.5,994.3 813.8,1002.9 C819.7,1012.4 825.4,1024.5 830.5,1033.8 C834.8,1041.6 838.9,1047.8 842.4,1055.2 C846.0,1062.8 848.2,1070.8 851.9,1079.0 C856.0,1088.2 860.7,1097.8 866.2,1107.6 C872.4,1118.5 882.5,1132.1 887.6,1141.0 C890.8,1146.6 892.5,1151.2 894.8,1155.2 C896.6,1158.3 898.2,1160.5 900.0,1163.1 C901.9,1165.9 904.4,1168.5 906.0,1171.4 C907.5,1174.1 907.8,1176.9 909.5,1179.8 C911.5,1183.3 915.1,1186.9 917.9,1190.5 C920.7,1194.1 923.6,1197.5 926.2,1201.2 C928.8,1205.0 930.8,1209.4 933.3,1213.1 C935.6,1216.5 938.1,1219.6 940.5,1222.6 C942.8,1225.5 945.2,1228.0 947.6,1231.0 C950.3,1234.3 952.9,1238.2 956.0,1241.7 C959.3,1245.4 963.0,1248.9 966.7,1252.4 C970.5,1256.0 974.6,1259.7 978.6,1263.1 C982.5,1266.4 986.6,1269.7 990.5,1272.6 C994.1,1275.2 997.6,1277.7 1001.2,1279.8 C1004.7,1281.8 1008.8,1283.2 1011.9,1285.1 C1014.6,1286.8 1016.2,1289.1 1019.0,1290.5 C1022.4,1292.2 1027.4,1293.0 1031.0,1294.0 C1034.0,1294.8 1036.2,1295.8 1039.3,1296.2 C1043.1,1296.6 1048.2,1296.4 1052.4,1295.8 C1056.5,1295.2 1060.7,1294.1 1064.3,1292.9 C1067.4,1291.9 1069.6,1290.2 1072.6,1289.5 C1075.9,1288.7 1079.2,1288.6 1083.3,1288.5 C1089.0,1288.4 1097.1,1288.8 1103.8,1289.8 C1110.3,1290.8 1116.3,1292.2 1122.9,1294.5 C1130.5,1297.1 1138.9,1300.5 1146.7,1305.2 C1155.5,1310.5 1164.4,1319.9 1172.9,1325.5 C1180.2,1330.3 1187.5,1334.2 1194.3,1337.4 C1200.1,1340.1 1204.7,1342.4 1211.0,1343.8 C1218.6,1345.5 1229.8,1344.0 1237.1,1345.7 C1242.7,1347.0 1247.4,1348.8 1251.4,1351.7 C1255.3,1354.5 1257.2,1358.7 1261.0,1362.4 C1265.7,1367.0 1271.6,1372.0 1277.6,1376.7 C1284.2,1381.9 1291.9,1387.6 1299.0,1392.1 C1305.4,1396.2 1312.4,1399.9 1318.1,1402.9 C1322.5,1405.2 1326.5,1407.1 1330.0,1408.6 C1332.6,1409.7 1334.6,1410.4 1336.9,1411.3 C1339.2,1412.1 1341.5,1412.7 1343.7,1413.7 C1346.0,1414.7 1348.2,1416.2 1350.6,1417.5 C1353.2,1418.9 1356.3,1420.2 1358.8,1422.0 C1361.3,1423.8 1363.2,1425.8 1365.7,1428.1 C1368.7,1430.8 1372.1,1434.0 1375.3,1437.1 C1378.5,1440.2 1381.8,1444.3 1384.9,1446.7 C1387.3,1448.5 1389.5,1449.5 1391.8,1450.8 C1394.1,1452.0 1396.1,1452.9 1398.6,1454.2 C1401.7,1455.8 1405.8,1458.2 1408.9,1459.7 C1411.4,1460.9 1413.5,1461.5 1415.8,1462.5 C1418.1,1463.5 1419.9,1464.9 1422.7,1465.5 C1426.4,1466.3 1433.4,1466.4 1436.4,1465.9 C1438.0,1465.6 1438.0,1464.8 1439.8,1464.5 C1444.9,1463.5 1465.7,1466.4 1470.7,1464.5 C1472.6,1463.8 1472.9,1461.9 1474.1,1461.4 C1475.2,1461.0 1476.6,1461.0 1477.6,1461.4 C1478.6,1461.8 1479.0,1462.7 1480.0,1463.5 C1481.7,1464.9 1484.2,1467.0 1487.1,1468.6 C1490.9,1470.7 1496.5,1473.6 1501.4,1474.5 C1506.1,1475.3 1511.2,1474.8 1515.7,1474.0 C1519.9,1473.2 1523.9,1471.6 1527.6,1469.8 C1531.0,1468.1 1534.1,1465.5 1537.1,1463.8 C1539.6,1462.4 1541.9,1460.2 1544.3,1460.2 C1546.7,1460.2 1547.3,1462.8 1551.4,1463.8 C1569.0,1468.0 1655.1,1463.7 1700.0,1463.8 C1737.3,1463.9 1777.6,1463.5 1802.4,1464.3 C1816.5,1464.7 1824.8,1466.4 1835.7,1466.2 C1846.2,1466.0 1857.0,1463.8 1866.7,1463.1 C1875.1,1462.5 1881.4,1462.0 1890.5,1461.9 C1902.7,1461.8 1921.1,1462.5 1933.3,1463.1 C1942.4,1463.6 1947.3,1464.5 1957.1,1464.8 C1973.1,1465.3 1998.0,1464.2 2020.0,1464.2 C2044.3,1464.2 2076.6,1465.8 2096.9,1465.1 C2110.2,1464.6 2117.6,1462.8 2129.8,1462.3 C2145.0,1461.7 2165.0,1461.7 2181.0,1462.3 C2195.2,1462.8 2202.9,1464.5 2221.3,1465.1 C2260.8,1466.4 2345.8,1464.6 2408.0,1464.3" fill="none" stroke="#000000" stroke-width="3" stroke-linejoin="round" stroke-linecap="butt" shape-rendering="crispEdges"/>
<rect x="169" y="38" width="2243" height="6" fill="#000"/>
<rect x="169" y="1683" width="2243" height="7" fill="#000"/>
<rect x="169" y="38" width="7" height="1652" fill="#000"/>
<rect x="2405" y="38" width="7" height="1652" fill="#000"/>
<line x1="332.21" y1="1685" x2="332.21" y2="1668.4" stroke="#000" stroke-width="6.9" stroke-linecap="butt"/>
<line x1="491.93" y1="1685" x2="491.93" y2="1653.6" stroke="#000" stroke-width="6.9" stroke-linecap="butt"/>
<line x1="651.64" y1="1685" x2="651.64" y2="1668.4" stroke="#000" stroke-width="6.9" stroke-linecap="butt"/>
<line x1="811.36" y1="1685" x2="811.36" y2="1653.6" stroke="#000" stroke-width="6.9" stroke-linecap="butt"/>
<line x1="971.07" y1="1685" x2="971.07" y2="1668.4" stroke="#000" stroke-width="6.9" stroke-linecap="butt"/>
<line x1="1130.79" y1="1685" x2="1130.79" y2="1653.6" stroke="#000" stroke-width="6.9" stroke-linecap="butt"/>
<line x1="1290.50" y1="1685" x2="1290.50" y2="1668.4" stroke="#000" stroke-width="6.9" stroke-linecap="butt"/>
<line x1="1450.21" y1="1685" x2="1450.21" y2="1653.6" stroke="#000" stroke-width="6.9" stroke-linecap="butt"/>
<line x1="1609.93" y1="1685" x2="1609.93" y2="1668.4" stroke="#000" stroke-width="6.9" stroke-linecap="butt"/>
<line x1="1769.64" y1="1685" x2="1769.64" y2="1653.6" stroke="#000" stroke-width="6.9" stroke-linecap="butt"/>
<line x1="1929.36" y1="1685" x2="1929.36" y2="1668.4" stroke="#000" stroke-width="6.9" stroke-linecap="butt"/>
<line x1="2089.07" y1="1685" x2="2089.07" y2="1653.6" stroke="#000" stroke-width="6.9" stroke-linecap="butt"/>
<line x1="2248.79" y1="1685" x2="2248.79" y2="1668.4" stroke="#000" stroke-width="6.9" stroke-linecap="butt"/>
<text transform="translate(172.50,1767.3) scale(0.934,1)" font-family="'Liberation Sans', Arial, sans-serif" font-size="64.9" text-anchor="middle" fill="#000">100</text>
<text transform="translate(491.93,1767.3) scale(0.934,1)" font-family="'Liberation Sans', Arial, sans-serif" font-size="64.9" text-anchor="middle" fill="#000">200</text>
<text transform="translate(811.36,1767.3) scale(0.934,1)" font-family="'Liberation Sans', Arial, sans-serif" font-size="64.9" text-anchor="middle" fill="#000">300</text>
<text transform="translate(1130.79,1767.3) scale(0.934,1)" font-family="'Liberation Sans', Arial, sans-serif" font-size="64.9" text-anchor="middle" fill="#000">400</text>
<text transform="translate(1450.21,1767.3) scale(0.934,1)" font-family="'Liberation Sans', Arial, sans-serif" font-size="64.9" text-anchor="middle" fill="#000">500</text>
<text transform="translate(1769.64,1767.3) scale(0.934,1)" font-family="'Liberation Sans', Arial, sans-serif" font-size="64.9" text-anchor="middle" fill="#000">600</text>
<text transform="translate(2089.07,1767.3) scale(0.934,1)" font-family="'Liberation Sans', Arial, sans-serif" font-size="64.9" text-anchor="middle" fill="#000">700</text>
<text transform="translate(2408.50,1767.3) scale(0.934,1)" font-family="'Liberation Sans', Arial, sans-serif" font-size="64.9" text-anchor="middle" fill="#000">800</text>
<text x="1012" y="1875" font-family="'Liberation Serif', 'Times New Roman', serif" font-weight="bold" font-size="78" fill="#000">Temperature/ °C</text>
<text transform="translate(94,1166) rotate(-90) scale(0.9863,1)" x="0" y="0" font-family="'Liberation Serif', 'Times New Roman', serif" font-weight="bold" font-size="76" fill="#000">TCD signal(a.u.)</text>
<text transform="translate(2014.85,426.6) scale(0.979,1)" font-family="'Liberation Serif', 'Times New Roman', serif" font-size="78" fill="#000">1.8 wt%Cr</text>
<text transform="translate(2020.35,579) scale(0.979,1)" font-family="'Liberation Serif', 'Times New Roman', serif" font-size="78" fill="#000">1.4 wt%Cr</text>
<text transform="translate(1991.95,912.1) scale(0.979,1)" font-family="'Liberation Serif', 'Times New Roman', serif" font-size="78" fill="#000">1.0 wt%Cr</text>
<text transform="translate(1997.66,1094.9) scale(0.979,1)" font-family="'Liberation Serif', 'Times New Roman', serif" font-size="78" fill="#000">0.2 wt%Cr</text>
<text transform="translate(1995.46,1227.5) scale(0.979,1)" font-family="'Liberation Serif', 'Times New Roman', serif" font-size="78" fill="#000">0.6 wt%Cr</text>
<text transform="translate(2022.06,1412.7) scale(0.979,1)" font-family="'Liberation Serif', 'Times New Roman', serif" font-size="78" fill="#000">0 wt%Cr</text></svg>
</body></html>
